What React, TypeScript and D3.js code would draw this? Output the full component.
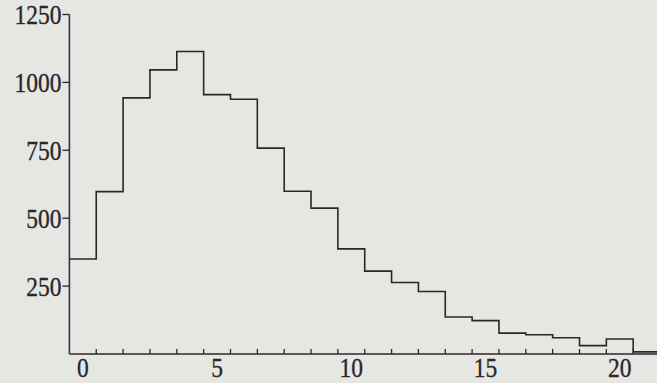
import React from "react";
import * as d3 from "d3";

const binCenters = [0, 1, 2, 3, 4, 5, 6, 7, 8, 9, 10, 11, 12, 13, 14, 15, 16, 17, 18, 19, 20, 21];
const counts = [350, 598, 943, 1046, 1114, 955, 938, 758, 599, 537, 387, 305, 263, 230, 136, 123, 77, 71, 60, 31, 55, 8];
const yTickValues = [250, 500, 750, 1000, 1250];
const xLabelValues = [0, 5, 10, 15, 20];
const xTickEdges = [0.5, 1.5, 2.5, 3.5, 4.5, 5.5, 6.5, 7.5, 8.5, 9.5, 10.5, 11.5, 12.5, 13.5, 14.5, 15.5, 16.5, 17.5, 18.5, 19.5, 20.5];

const W = 657;
const H = 383;
const FONT = "'Liberation Serif', 'DejaVu Serif', serif";
const INK = "#2a272b";
const SX = 0.87;

export default function App() {
  const x = d3.scaleLinear().domain([-0.5, 20.5]).range([69.4, 633.2]);
  const y = d3.scaleLinear().domain([0, 1250]).range([354, 14.5]);

  const pts: [number, number][] = [];
  binCenters.forEach((c, i) => {
    pts.push([x(c - 0.5), y(counts[i])]);
    pts.push([x(c + 0.5), y(counts[i])]);
  });
  const line = d3.line<[number, number]>().x((d) => d[0]).y((d) => d[1]);
  const stepPath = line(pts) || "";

  return (
    <div style={{ position: "fixed", left: 0, top: 0, width: W, height: H }}>
      <svg width={W} height={H} viewBox={`0 0 ${W} ${H}`} style={{ display: "block" }}>
        <rect x={0} y={0} width={W} height={H} fill="#e6e6e2" />
        <line x1={x(-0.5)} x2={W} y1={y(0)} y2={y(0)} stroke={INK} strokeWidth={1.6} />
        <line x1={x(-0.5)} x2={x(-0.5)} y1={y(0)} y2={y(1250)} stroke="#3a3042" strokeWidth={1.6} />
        {yTickValues.map((v) => (
          <g key={"yt" + v}>
            <line x1={x(-0.5) - 7} x2={x(-0.5)} y1={y(v)} y2={y(v)} stroke={INK} strokeWidth={1.3} />
            <g transform={`translate(${x(-0.5) - 8},${y(v)}) scale(${SX},1)`}>
              <text
                x={0}
                y={0}
                textAnchor="end"
                dominantBaseline="central"
                fontFamily={FONT}
                fontSize={27}
                fill={INK}
                stroke={INK}
                strokeWidth={0.35}
              >
                {v}
              </text>
            </g>
          </g>
        ))}
        {xTickEdges.map((e) => (
          <line key={"xt" + e} x1={x(e)} x2={x(e)} y1={y(0)} y2={y(0) - 5} stroke={INK} strokeWidth={1.3} />
        ))}
        {xLabelValues.map((v) => (
          <g key={"xl" + v} transform={`translate(${x(v)},377) scale(${SX},1)`}>
            <text
              x={0}
              y={0}
              textAnchor="middle"
              fontFamily={FONT}
              fontSize={27}
              fill={INK}
              stroke={INK}
              strokeWidth={0.35}
            >
              {v}
            </text>
          </g>
        ))}
        <path d={stepPath} fill="none" stroke={INK} strokeWidth={1.6} />
      </svg>
    </div>
  );
}
